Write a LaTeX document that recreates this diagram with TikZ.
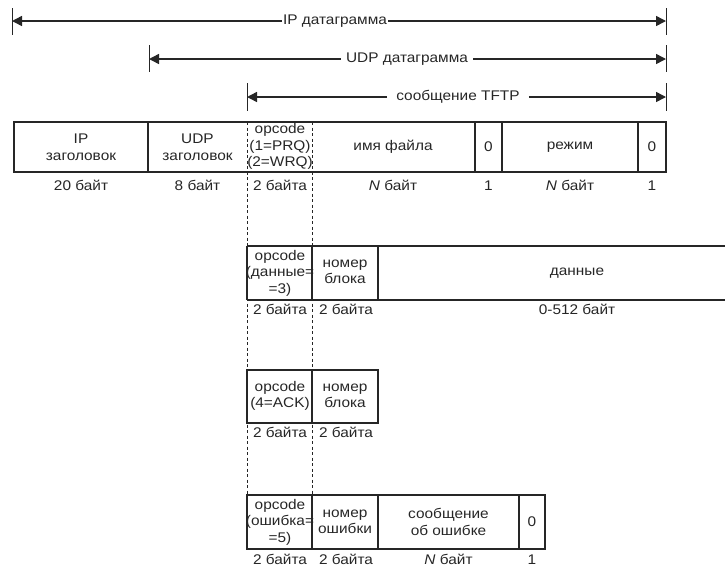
\documentclass[tikz,border=0pt]{standalone}
\usepackage{fontspec}
\setmainfont{Liberation Sans}[FakeStretch=1.1]
\usetikzlibrary{arrows.meta}
\begin{document}
\begin{tikzpicture}[x=1pt,y=-1pt,
  every node/.style={font=\fontsize{14}{16.5}\selectfont, inner sep=0pt, align=center, text=black!85},
  lab/.style={anchor=base},
  box/.style={line width=1.1pt, draw=black!85},
  dashline/.style={line width=1pt, dash pattern=on 3pt off 2.5pt, draw=black!85},
  dim/.style={line width=1.5pt, draw=black!85, -{Triangle[length=10pt,width=10pt]}},
  bar/.style={line width=1pt, draw=black!85}]
\useasboundingbox (0,0) rectangle (725,566);

% dimension arrows
\coordinate (ipL) at (12,21);
\coordinate (ipR) at (666,21);
\node[inner xsep=1pt] (ipT) at (335,21) {IP датаграмма};
\draw[dim] (ipT.west) -- (ipL);
\draw[dim] (ipT.east) -- (ipR);
\draw[bar] ([yshift=13pt]ipL) -- ([yshift=-14pt]ipL);
\draw[bar] ([yshift=13pt]ipR) -- ([yshift=-14pt]ipR);

\coordinate (udpL) at (149,59);
\coordinate (udpR) at (666,59);
\node[inner xsep=5pt] (udpT) at (407,59) {UDP датаграмма};
\draw[dim] (udpT.west) -- (udpL);
\draw[dim] (udpT.east) -- (udpR);
\draw[bar] ([yshift=14pt]udpL) -- ([yshift=-13pt]udpL);
\draw[bar] ([yshift=14pt]udpR) -- ([yshift=-13pt]udpR);

\coordinate (tfL) at (247,97);
\coordinate (tfR) at (666,97);
\node[inner xsep=9pt] (tfT) at (458,97) {сообщение TFTP};
\draw[dim] (tfT.west) -- (tfL);
\draw[dim] (tfT.east) -- (tfR);
\draw[bar] ([yshift=14pt]tfL) -- ([yshift=-14pt]tfL);
\draw[bar] ([yshift=14pt]tfR) -- ([yshift=-14pt]tfR);

% dashed guides
\draw[dashline] (247,122) -- (247,495);
\draw[dashline] (312,122) -- (312,495);

% row 1
\draw[box] (14,122) rectangle (666,172);
\foreach \x in {148,475,502,638} \draw[box] (\x,122) -- (\x,172);
\node (iph) at (81,147) {IP\\заголовок};
\node (udph) at (197.5,147) {UDP\\заголовок};
\node (op1) at (280,146.5) {opcode\\(1=PRQ)\\(2=WRQ)};
\node (fn) at (393,147) {имя файла};
\node (z1) at (488.5,147) {0};
\node (mode) at (570,147) {режим};
\node (z2) at (652,147) {0};
\node[lab] (l11) at (81,190) {20 байт};
\node[lab] (l12) at (197.5,190) {8 байт};
\node[lab] (l13) at (280,190) {2 байта};
\node[lab] (l14) at (393,190) {\textit{N} байт};
\node[lab] (l15) at (488.5,190) {1};
\node[lab] (l16) at (570,190) {\textit{N} байт};
\node[lab] (l17) at (652,190) {1};

% row 2
\draw[box] (247,246) -- (725,246);
\draw[box] (247,300) -- (725,300);
\foreach \x in {247,312,378} \draw[box] (\x,246) -- (\x,300);
\node (op2) at (280,273) {opcode\\(данные=\\=3)};
\node (nb2) at (345,272) {номер\\блока};
\node (dat) at (577,273) {данные};
\node[lab] (l21) at (280,314) {2 байта};
\node[lab] (l22) at (346,314) {2 байта};
\node[lab] (l23) at (577,314) {0-512 байт};

% row 3
\draw[box] (247,370) rectangle (378,423);
\draw[box] (312,370) -- (312,423);
\node (op3) at (280,396) {opcode\\(4=ACK)};
\node (nb3) at (345,396) {номер\\блока};
\node[lab] (l31) at (280,437) {2 байта};
\node[lab] (l32) at (346,437) {2 байта};

% row 4
\draw[box] (247,495) rectangle (545,549);
\foreach \x in {312,378,519} \draw[box] (\x,495) -- (\x,549);
\node (op4) at (280,522) {opcode\\(ошибка=\\=5)};
\node (ne4) at (345,522) {номер\\ошибки};
\node (msg4) at (448.5,522) {сообщение\\об ошибке};
\node (z4) at (532,522) {0};
\node[lab] (l41) at (280,564) {2 байта};
\node[lab] (l42) at (346,564) {2 байта};
\node[lab] (l43) at (448.5,564) {\textit{N} байт};
\node[lab] (l44) at (532,564) {1};
\end{tikzpicture}
\end{document}
